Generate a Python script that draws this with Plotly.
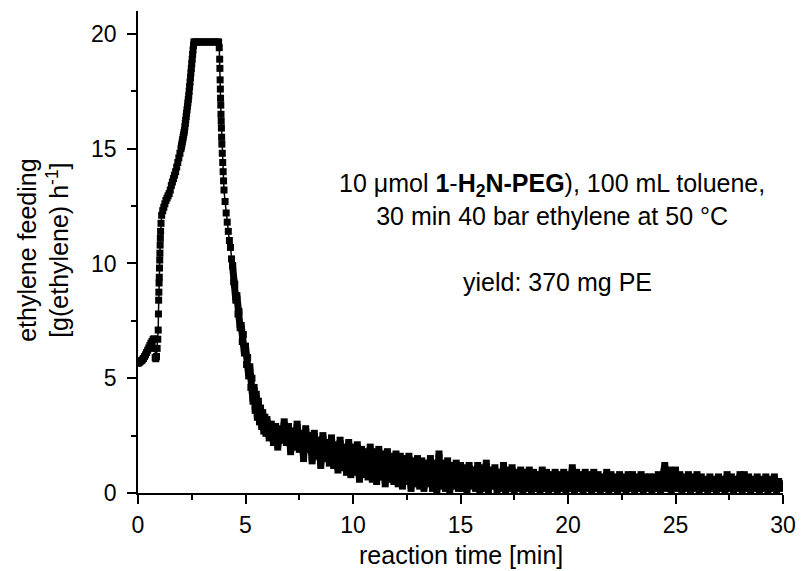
import plotly.graph_objects as go

# ---- data: early part (explicit time / feed pairs) ----
time_early = [0.00, 0.05, 0.10, 0.15, 0.20, 0.25, 0.30, 0.35, 0.40, 0.45,
              0.50, 0.55, 0.60, 0.65, 0.70, 0.74, 0.77, 0.80, 0.83, 0.86,
              0.89, 0.92, 0.94, 0.95, 0.96, 0.97, 0.98, 0.99, 1.00, 1.01,
              1.02, 1.03, 1.04, 1.05, 1.07, 1.10, 1.15, 1.20, 1.25, 1.30,
              1.35, 1.40, 1.45, 1.50, 1.55, 1.60, 1.65, 1.70, 1.75, 1.80,
              1.85, 1.90, 1.95, 2.00, 2.02, 2.04, 2.06, 2.08, 2.10, 2.12,
              2.14, 2.16, 2.18, 2.20, 2.22, 2.24, 2.26, 2.28, 2.30, 2.32,
              2.34, 2.36, 2.38, 2.40, 2.42, 2.44, 2.46, 2.48, 2.50, 2.52,
              2.54, 2.56, 2.58, 2.60, 2.65, 2.70, 2.80, 2.90, 3.00, 3.10,
              3.20, 3.30, 3.40, 3.50, 3.60, 3.70, 3.75, 3.78, 3.80, 3.81,
              3.82, 3.83, 3.84, 3.85, 3.86, 3.87, 3.88, 3.89, 3.90, 3.92,
              3.94, 3.96, 3.98, 4.00, 4.05, 4.10, 4.15, 4.20, 4.25, 4.30,
              4.35, 4.40, 4.45, 4.50, 4.55, 4.60, 4.65, 4.70, 4.75, 4.80,
              4.85, 4.90, 4.95, 5.00, 5.05, 5.10, 5.15, 5.20, 5.25, 5.30,
              5.35, 5.40, 5.45, 5.50, 5.55, 5.60, 5.65, 5.70, 5.75, 5.80,
              5.85, 5.90, 5.95]
feed_early = [5.65, 5.68, 5.72, 5.76, 5.80, 5.86, 5.94, 6.02, 6.12, 6.22,
              6.32, 6.42, 6.52, 6.60, 6.68, 6.72, 6.30, 5.90, 5.85, 5.95,
              6.30, 6.70, 7.10, 7.80, 8.40, 8.75, 9.15, 9.40, 9.80, 10.15,
              10.45, 10.80, 11.10, 11.40, 11.75, 12.10, 12.30, 12.45, 12.60, 12.75,
              12.85, 12.95, 13.05, 13.20, 13.40, 13.55, 13.70, 13.85, 14.00, 14.20,
              14.40, 14.60, 14.80, 15.00, 15.10, 15.20, 15.30, 15.40, 15.50, 15.60,
              15.70, 15.80, 15.95, 16.10, 16.25, 16.40, 16.55, 16.70, 16.85, 17.00,
              17.15, 17.30, 17.50, 17.70, 17.90, 18.10, 18.30, 18.50, 18.70, 18.90,
              19.10, 19.30, 19.50, 19.65, 19.65, 19.65, 19.65, 19.65, 19.65, 19.65,
              19.65, 19.65, 19.65, 19.65, 19.65, 19.65, 19.65, 19.40, 18.90, 18.50,
              18.00, 17.60, 17.20, 16.90, 16.50, 16.20, 15.90, 15.50, 15.20, 14.80,
              14.40, 14.00, 13.60, 13.20, 12.70, 12.20, 11.80, 11.40, 11.00, 10.70,
              10.20, 9.90, 9.20, 9.10, 8.40, 8.60, 7.80, 7.90, 7.20, 7.30,
              6.60, 6.90, 6.10, 6.40, 5.60, 5.90, 5.10, 5.50, 4.60, 5.00,
              4.00, 4.60, 3.60, 4.30, 3.30, 4.00, 3.10, 3.70, 2.90, 3.50,
              2.70, 3.30, 2.60]

# ---- data: tail, sampled every 0.1 min from 6.0 to 30.0 ----
feed_tail = [
    3.2, 2.4, 3.0, 2.2, 2.9, 2.0, 2.8, 2.3, 3.1, 2.2,   # 6
    2.9, 1.8, 2.7, 2.0, 3.0, 1.9, 2.6, 1.5, 2.8, 1.9,   # 7
    2.5, 1.4, 2.6, 1.6, 2.3, 1.2, 2.5, 1.5, 2.2, 1.3,   # 8
    2.4, 1.2, 2.1, 1.0, 2.3, 1.1, 2.0, 0.9, 2.2, 0.8,   # 9
    2.0, 0.9, 2.1, 0.6, 1.9, 0.8, 1.8, 0.7, 2.0, 0.6,   # 10
    1.8, 0.5, 1.9, 0.7, 1.7, 0.4, 1.8, 0.6, 1.6, 0.5,   # 11
    1.7, 0.4, 1.6, 0.3, 1.5, 0.5, 1.6, 0.2, 1.4, 0.4,   # 12
    1.5, 0.3, 1.4, 0.2, 1.3, 0.4, 1.5, 0.2, 1.3, 0.1,   # 13
    1.7, 0.3, 1.3, 0.2, 1.4, 0.1, 1.2, 0.3, 1.3, 0.2,   # 14
    1.2, 0.2, 1.1, 0.1, 1.2, 0.3, 1.0, 0.2, 1.2, 0.1,   # 15
    1.1, 0.2, 1.3, 0.1, 1.0, 0.3, 1.1, 0.1, 0.9, 0.2,   # 16
    1.2, 0.1, 1.0, 0.2, 1.1, 0.1, 0.9, 0.2, 1.0, 0.1,   # 17
    0.9, 0.2, 1.0, 0.1, 0.9, 0.2, 0.8, 0.1, 1.0, 0.2,   # 18
    0.9, 0.1, 0.8, 0.2, 0.9, 0.1, 0.8, 0.2, 0.9, 0.1,   # 19
    0.8, 0.2, 1.1, 0.1, 0.9, 0.2, 0.8, 0.1, 0.9, 0.2,   # 20
    0.8, 0.1, 0.9, 0.2, 0.8, 0.1, 0.7, 0.2, 0.9, 0.1,   # 21
    0.8, 0.2, 0.7, 0.1, 0.8, 0.2, 0.7, 0.1, 0.8, 0.2,   # 22
    0.8, 0.1, 0.7, 0.2, 0.8, 0.1, 0.7, 0.2, 0.7, 0.1,   # 23
    0.7, 0.2, 0.8, 0.1, 0.7, 1.2, 0.2, 1.0, 0.1, 0.8,   # 24
    1.0, 0.2, 0.8, 0.1, 0.7, 0.2, 0.8, 0.1, 0.7, 0.2,   # 25
    0.8, 0.1, 0.7, 0.2, 0.6, 0.1, 0.7, 0.2, 0.6, 0.1,   # 26
    0.7, 0.2, 0.6, 0.1, 0.8, 0.2, 0.7, 0.1, 0.6, 0.2,   # 27
    0.8, 0.1, 0.8, 0.2, 0.7, 0.1, 0.6, 0.2, 0.7, 0.1,   # 28
    0.6, 0.2, 0.7, 0.1, 0.6, 0.2, 0.7, 0.1, 0.5, 0.2,   # 29
    0.4,                                                # 30
]
time_tail = [round(6.0 + 0.1 * i, 2) for i in range(len(feed_tail))]

time_min = time_early + time_tail
feed = feed_early + feed_tail

# the noisy part (from 4.4 min on) is drawn with a heavier connecting line
split = time_min.index(4.40)

x_ticks = [0, 5, 10, 15, 20, 25, 30]
y_ticks = [0, 5, 10, 15, 20]

FONT = "Arial, Liberation Sans, Helvetica, sans-serif"
TICK_SIZE = 23
TEXT_SIZE = 25

fig = go.Figure()
fig.add_trace(go.Scatter(
    x=time_min[:split + 1], y=feed[:split + 1], mode="lines+markers",
    line=dict(color="black", width=1.5),
    marker=dict(symbol="square", size=7, color="black", line=dict(width=0)),
    showlegend=False,
))
fig.add_trace(go.Scatter(
    x=time_min[split:], y=feed[split:], mode="lines+markers",
    line=dict(color="black", width=7),
    marker=dict(symbol="square", size=7, color="black", line=dict(width=0)),
    showlegend=False,
))

axis_common = dict(
    showline=True, linecolor="black", linewidth=1.5,
    ticks="outside", ticklen=9, tickwidth=1.5, tickcolor="black",
    showgrid=False, zeroline=False, mirror=False,
    tickfont=dict(family=FONT, size=TICK_SIZE, color="black"),
)

fig.update_xaxes(
    range=[0, 30], tickvals=x_ticks, ticklabelstandoff=2,
    minor=dict(ticks="outside", ticklen=5, tickwidth=1.5, tickcolor="black", dtick=2.5, tick0=0),
    **axis_common,
)
fig.update_yaxes(
    range=[0, 21], tickvals=y_ticks, ticklabelstandoff=6,
    minor=dict(ticks="outside", ticklen=5, tickwidth=1.5, tickcolor="black", dtick=2.5, tick0=0),
    **axis_common,
)

fig.add_annotation(
    xref="paper", yref="paper", x=-0.1476, y=0.504,
    text="ethylene feeding<br>[g(ethylene) h<sup>-1</sup>]",
    textangle=-90, showarrow=False, xanchor="center", yanchor="middle",
    font=dict(family=FONT, size=TEXT_SIZE, color="black"),
)
fig.add_annotation(
    xref="paper", yref="paper", x=0.5, y=-0.1286,
    text="reaction time [min]",
    showarrow=False, xanchor="center", yanchor="middle",
    font=dict(family=FONT, size=TEXT_SIZE, color="black"),
)
fig.add_annotation(
    x=19.24, y=12.8, xref="x", yref="y",
    text="10 μmol <b>1</b>-<b>H<sub>2</sub>N-PEG</b>), 100 mL toluene,<br>30 min 40 bar ethylene at 50 °C",
    showarrow=False, xanchor="center", yanchor="middle",
    font=dict(family=FONT, size=TEXT_SIZE, color="black"),
)
fig.add_annotation(
    x=19.5, y=9.2, xref="x", yref="y",
    text="yield: 370 mg PE",
    showarrow=False, xanchor="center", yanchor="middle",
    font=dict(family=FONT, size=TEXT_SIZE, color="black"),
)

fig.update_layout(
    width=807, height=571,
    margin=dict(l=137.5, r=19, t=11, b=78),
    plot_bgcolor="white", paper_bgcolor="white",
    font=dict(family=FONT, size=TEXT_SIZE, color="black"),
)

fig.write_html("out.html")
